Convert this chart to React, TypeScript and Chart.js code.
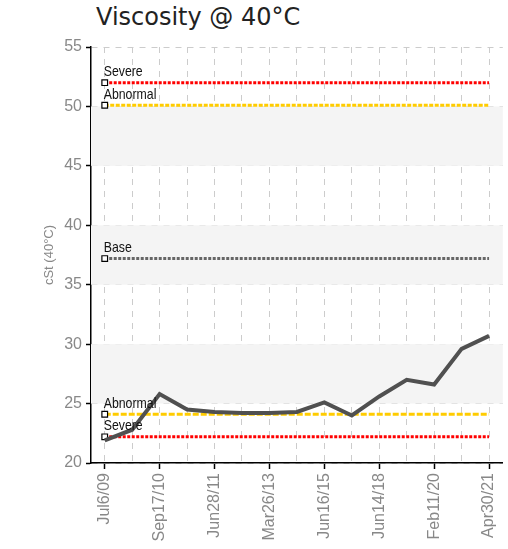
import React, { useEffect, useRef } from "react";
import { Chart, registerables } from "chart.js";

Chart.register(...registerables);

const categories = [
  "Jul6/09", "Jan12/10", "Sep17/10", "Feb3/11", "Jun28/11", "Jun5/12", "Mar26/13", "Jul8/14",
  "Jun16/15", "Apr4/17", "Jun14/18", "Jul2/19", "Feb11/20", "Sep9/20", "Apr30/21",
];
const viscosity = [21.9, 22.8, 25.8, 24.5, 24.3, 24.2, 24.2, 24.3, 25.1, 24.0, 25.6, 27.0, 26.6, 29.6, 30.7];
const severeHigh = 52.0;
const abnormalHigh = 50.1;
const baseValue = 37.2;
const abnormalLow = 24.1;
const severeLow = 22.2;
const shadedBands = [[25, 30], [35, 40], [45, 50]];
const yMin = 20;
const yMax = 55;
const yStep = 5;

const tickFont = "'Liberation Sans', Arial, sans-serif";

function flat(v: number) {
  return categories.map(() => v);
}

const bandsPlugin = {
  id: "bands",
  beforeDatasetsDraw(chart: any) {
    const { ctx, chartArea, scales } = chart;
    ctx.save();
    ctx.fillStyle = "#f4f4f4";
    for (const [a, b] of shadedBands) {
      const y1 = scales.y.getPixelForValue(b);
      const y2 = scales.y.getPixelForValue(a);
      ctx.fillRect(chartArea.left, y1, chartArea.right - chartArea.left, y2 - y1);
    }
    ctx.restore();
  },
};

const limitLabelPlugin = {
  id: "limitLabels",
  afterDatasetsDraw(chart: any) {
    const { ctx } = chart;
    ctx.save();
    ctx.font = "15px " + tickFont;
    ctx.fillStyle = "#111";
    ctx.textAlign = "left";
    ctx.textBaseline = "bottom";
    chart.data.datasets.forEach((ds: any, i: number) => {
      if (!ds.limitLabel) return;
      const pt = chart.getDatasetMeta(i).data[0];
      ctx.save();
      ctx.translate(pt.x - 1, pt.y - 3);
      ctx.scale(0.82, 1);
      ctx.fillText(ds.limitLabel, 0, 0);
      ctx.restore();
    });
    ctx.restore();
  },
};

export default function App() {
  const ref = useRef<HTMLCanvasElement>(null);
  useEffect(() => {
    const firstOnly = (r: number) => categories.map((_, i) => (i === 0 ? r : 0));
    const limit = (label: string, v: number, color: string, dash: number[]) => ({
      label,
      limitLabel: label,
      data: flat(v),
      borderColor: color,
      borderWidth: 3,
      borderDash: dash,
      pointStyle: "rect",
      pointRadius: firstOnly(4),
      pointBackgroundColor: "#fff",
      pointBorderColor: "#000",
      pointBorderWidth: 1.2,
      fill: false,
      order: 2,
    });
    const chart = new Chart(ref.current!, {
      type: "line",
      data: {
        labels: categories,
        datasets: [
          {
            label: "Viscosity",
            data: viscosity,
            borderColor: "#505050",
            borderWidth: 4,
            pointRadius: 0,
            fill: false,
            order: 1,
          } as any,
          limit("Severe", severeHigh, "#ff0000", [3, 1.5]),
          limit("Abnormal", abnormalHigh, "#ffcc00", [4, 1.5]),
          limit("Base", baseValue, "#666666", [3, 1.5]),
          limit("Abnormal", abnormalLow, "#ffcc00", [6, 2]),
          limit("Severe", severeLow, "#ff0000", [3, 1.5]),
        ],
      },
      options: {
        animation: false,
        responsive: false,
        maintainAspectRatio: false,
        layout: { padding: { top: 47, right: -3, left: 42, bottom: 0 } },
        plugins: { legend: { display: false }, tooltip: { enabled: false }, title: { display: false } },
        scales: {
          x: {
            offset: true,
            grid: {
              display: true,
              color: "#cccccc",
              offset: false,
              drawTicks: true,
              tickLength: 6,
              tickColor: (c: any) => (c.index % 2 === 0 ? "#000" : "rgba(0,0,0,0)"),
              tickBorderDash: [],
              tickWidth: 1.5,
            } as any,
            border: { color: "#000", width: 1.5, dash: [6, 6] },
            ticks: {
              autoSkip: false,
              maxRotation: 90,
              minRotation: 90,
              color: "#888",
              font: { family: tickFont, size: 16 },
              padding: 4,
              callback: (_v: any, i: number) => (i % 2 === 0 ? categories[i] : ""),
            },
            afterFit: (s: any) => {
              s.height = 86;
              s.paddingLeft = 0;
              s.paddingRight = 0;
            },
          },
          y: {
            min: yMin,
            max: yMax,
            ticks: { stepSize: yStep, color: "#888", font: { family: tickFont, size: 16 }, padding: 4 },
            grid: {
              color: "#cccccc",
              tickColor: "#000",
              tickLength: 5,
              tickBorderDash: [],
              tickWidth: 1.5,
            } as any,
            border: { color: "#000", width: 1.5, dash: [6, 6] },
            title: {
              display: true,
              text: "cSt (40°C)",
              color: "#888",
              font: { family: tickFont, size: 13 },
              padding: 0,
            },
            afterFit: (s: any) => {
              s.width = 49;
            },
          },
        },
      } as any,
      plugins: [bandsPlugin, limitLabelPlugin],
    });
    return () => chart.destroy();
  }, []);
  return (
    <div style={{ position: "fixed", left: 0, top: 0, width: 508, height: 549, background: "#fff" }}>
      <div
        style={{
          position: "absolute",
          left: 96,
          top: 2,
          fontFamily: "'DejaVu Sans', Verdana, sans-serif",
          fontSize: 24,
          color: "#222",
          lineHeight: "30px",
        }}
      >
        Viscosity @ 40°C
      </div>
      <canvas ref={ref} width={508} height={549} style={{ position: "absolute", left: 0, top: 0 }} />
    </div>
  );
}
